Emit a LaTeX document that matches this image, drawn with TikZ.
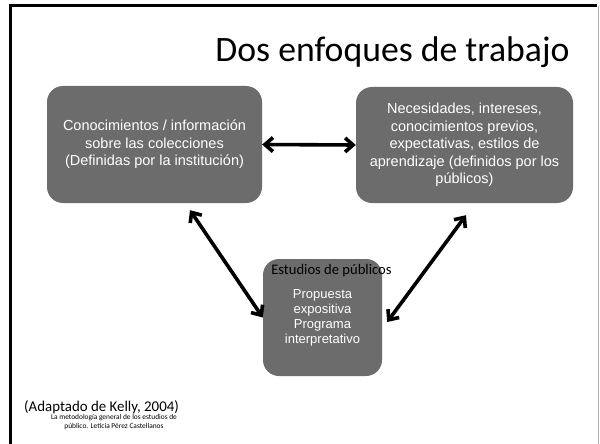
\documentclass[tikz,border=0pt]{standalone}
\usepackage{fontspec}
\setmainfont{Carlito}
\newfontfamily\arialfont{Liberation Sans}
\usetikzlibrary{arrows.meta}
\definecolor{cajagris}{RGB}{108,108,108}

\begin{document}
\begin{tikzpicture}[x=1pt, y=-1pt,
        caja/.style={fill=cajagris, rounded corners=16pt, align=center, text=white, inner sep=0pt,
            font=\arialfont\fontsize{14.5}{17.5}\selectfont},
        flecha/.style={{Straight Barb[length=8pt,width=14pt]}-{Straight Barb[length=8pt,width=14pt]}, line width=3.6pt}]
        % 背景と枠
        \useasboundingbox (0,0) rectangle (600,444);
        \fill[white] (0,0) rectangle (600,444);
        \draw[line width=3pt] (9,6) -- (597,6);
        \draw[line width=3pt] (10,5) -- (10,444);
        \draw[gray!60] (598,6) -- (598,444);

        % タイトル
        \node[anchor=base east, font=\fontsize{35.7}{40}\selectfont] (titulo) at (573,62) {Dos enfoques de trabajo};

        % 箱の描画
        \node[caja, minimum width=215pt, minimum height=117pt] (cono) at (154.5,144.5)
            {Conocimientos / información\\sobre las colecciones\\(Definidas por la institución)};
        \node[caja, minimum width=217pt, minimum height=116pt] (nece) at (464.5,145)
            {Necesidades, intereses,\\conocimientos previos,\\expectativas, estilos de\\aprendizaje (definidos por los\\públicos)};
        \node[caja, minimum width=119pt, minimum height=117pt, font=\arialfont\fontsize{13}{15}\selectfont] (prop) at (322.5,317.5)
            {Propuesta\\expositiva\\Programa\\interpretativo};
        \node[font=\fontsize{14.6}{16}\selectfont] (estu) at (331.5,271) {Estudios de públicos};

        % 矢印の描画
        \draw[flecha] (cono.east) -- (nece.west);
        \draw[flecha] ([xshift=35.5pt, yshift=-7pt]cono.south) -- (prop.west);
        \draw[flecha] ([xshift=1.5pt, yshift=-12pt]nece.south) -- ([xshift=5pt, yshift=-4.5pt]prop.east);

        % 出典
        \node[anchor=west, font=\fontsize{14.9}{16}\selectfont, inner sep=0pt] (kelly) at (24,407) {(Adaptado de Kelly, 2004)};
        \node[align=center, font=\fontsize{7.4}{9}\selectfont, inner sep=0pt] (fuente) at (114,422.5)
            {La metodología general de los estudios de\\público. Leticia Pérez Castellanos};
    \end{tikzpicture}
\end{document}
